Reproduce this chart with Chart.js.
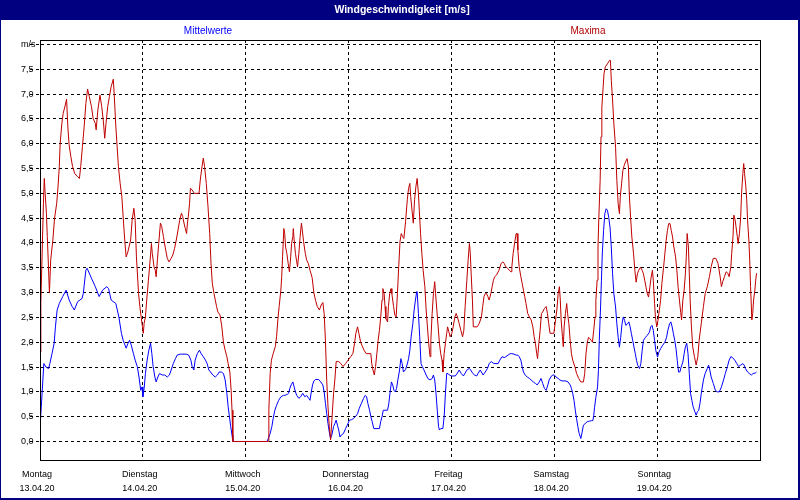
<!DOCTYPE html>
<html><head><meta charset="utf-8">
<script src="https://cdn.jsdelivr.net/npm/chart.js@4.4.1/dist/chart.umd.min.js"></script>
<style>html,body{margin:0;padding:0;background:#fff;}canvas{display:block;}</style>
</head><body>
<div style="width:800px;height:500px;position:relative"><canvas id="c" width="800" height="500"></canvas></div>
<script>
const titleText = 'Windgeschwindigkeit [m/s]';
const seriesNames = ['Mittelwerte', 'Maxima'];
const dayNames = ['Montag', 'Dienstag', 'Mittwoch', 'Donnerstag', 'Freitag', 'Samstag', 'Sonntag'];
const dayDates = ['13.04.20', '14.04.20', '15.04.20', '16.04.20', '17.04.20', '18.04.20', '19.04.20'];
const yTickValues = [0, 0.5, 1, 1.5, 2, 2.5, 3, 3.5, 4, 4.5, 5, 5.5, 6, 6.5, 7, 7.5, 8];
const xTickHours = [0, 24, 48, 72, 96, 120, 144, 168];

// Maxima: time in hours since Monday 00:00, value in m/s
const maxHours = [0,0.2,0.5,0.8,1.0,1.2,1.5,1.7,1.9,2.2,2.3,2.5,3.0,3.4,3.9,4.2,4.5,4.7,5.1,5.4,5.9,6.2,6.5,6.8,7.2,7.6,8.1,8.7,9.2,9.5,9.9,10.3,10.7,11.1,11.5,12.0,12.4,12.9,13.1,13.5,14.0,14.4,14.8,15.1,15.4,15.8,16.2,16.6,17.1,17.3,17.7,18.0,18.3,18.7,19.1,19.5,19.8,20.1,20.5,21.15,21.5,21.9,22.2,22.5,23.0,23.3,23.6,23.9,24.1,24.3,24.6,24.9,25.3,25.7,26.0,26.2,26.6,26.9,27.1,27.4,27.7,28.1,28.4,28.8,29.2,29.7,30.1,30.6,31.0,31.4,31.8,32.2,32.6,33.0,33.3,33.6,33.9,34.2,34.4,34.6,34.9,35.1,35.5,36.0,37.1,37.4,37.8,38.1,38.4,38.8,39.2,39.6,39.9,40.2,40.6,40.9,41.2,41.5,42.0,42.4,42.8,43.2,43.6,43.9,44.3,44.6,44.8,45.0,53.3,53.4,53.7,54.0,54.4,54.9,55.2,55.5,55.8,56.2,56.4,56.6,56.9,57.1,57.3,57.6,57.9,58.2,58.5,58.7,59.0,59.1,59.3,59.6,59.9,60.1,60.4,60.7,61.0,61.2,61.5,61.9,62.2,62.6,63.0,63.5,63.9,64.3,64.7,65.2,65.6,66.0,66.3,66.6,66.9,67.2,67.5,67.8,68.1,68.5,68.8,69.1,69.7,70.2,70.7,71.3,71.9,72.5,73.0,73.4,73.7,74.1,74.4,74.8,75.1,75.6,76.1,77.2,77.4,77.7,78.0,78.3,78.6,78.9,79.2,79.5,79.8,80.0,80.3,80.5,80.7,81.1,81.3,81.6,81.9,82.1,82.5,82.8,83.1,83.4,83.7,84.0,84.3,84.6,84.9,85.3,85.7,86.0,86.3,86.5,86.8,87.1,87.4,87.7,88.0,88.3,88.5,88.8,89.1,89.4,89.8,90.1,90.4,90.7,91.0,91.2,91.5,91.8,92.1,92.3,92.6,92.9,93.2,93.5,93.8,94.0,94.3,94.6,94.9,95.1,95.4,95.7,96.1,96.4,96.8,97.1,97.4,97.8,98.2,98.6,98.9,99.2,99.6,99.9,100.2,100.4,100.6,100.9,101.1,102.0,102.5,103.0,103.3,103.6,103.9,104.2,104.5,104.8,105.2,105.5,105.8,106.1,106.5,107.1,107.6,108.0,108.3,108.7,109.1,109.5,109.9,110.1,110.4,110.8,111.1,111.3,111.5,111.8,112.2,112.5,112.8,113.1,113.4,113.8,114.2,114.6,115.0,115.3,115.6,115.9,116.1,116.4,116.7,117.0,117.3,117.7,118.1,118.4,118.7,119.0,119.9,120.2,120.6,120.9,121.2,121.4,121.6,121.9,122.1,122.3,122.6,122.9,123.1,123.4,123.7,124.0,124.3,124.8,125.2,125.7,126.2,126.8,127.1,127.4,127.7,128.0,128.3,128.6,128.9,129.2,129.5,129.7,130.0,130.2,130.4,130.7,130.9,131.1,131.4,131.6,131.9,132.4,132.9,133.1,133.3,133.6,133.9,134.3,134.6,134.9,135.2,135.4,135.7,136.0,136.3,136.6,137.0,137.3,137.5,137.8,138.1,138.5,138.8,139.1,139.4,139.7,140.1,140.5,140.8,141.1,141.4,141.7,142.0,142.3,142.6,142.9,143.1,143.4,143.6,143.9,144.2,144.5,144.8,145.1,145.5,145.8,146.1,146.4,146.7,147.0,147.3,147.6,147.9,148.3,148.6,148.9,149.2,149.5,149.7,150.0,150.3,150.6,150.8,151.0,151.3,151.5,151.7,152.0,152.3,152.7,153.1,153.5,153.8,154.3,154.8,155.2,155.7,156.2,156.6,157.1,157.7,158.2,158.7,159.0,159.3,159.7,160.1,160.5,160.8,161.2,161.4,161.7,161.9,162.2,162.4,162.7,162.9,163.2,163.5,163.7,164.0,164.2,164.4,164.7,164.9,165.1,165.4,165.6,165.8,166.1,166.3,166.5,166.8,167.0,167.2];
const maxValues = [1.8,2.8,3.8,4.8,5.3,5.0,4.6,4.13,3.69,3.0,3.0,3.66,4.06,4.5,4.8,5.13,5.54,6.0,6.41,6.61,6.78,6.9,6.34,5.97,5.74,5.54,5.4,5.34,5.3,5.54,5.94,6.34,6.81,7.1,6.95,6.75,6.51,6.41,6.28,6.68,6.98,6.75,6.44,6.11,6.41,6.75,6.95,7.15,7.3,7.02,6.34,5.94,5.54,5.2,4.93,4.4,4.03,3.72,3.82,4.06,4.46,4.7,4.46,3.72,2.98,2.72,2.51,2.31,2.18,2.38,2.51,2.85,3.25,3.66,3.99,3.79,3.52,3.45,3.32,3.66,3.99,4.4,4.33,4.13,3.92,3.69,3.62,3.69,3.76,3.89,4.06,4.26,4.46,4.6,4.53,4.4,4.29,4.19,4.4,4.53,4.8,5.1,5.07,5.0,5.0,5.27,5.54,5.71,5.54,5.2,4.73,4.19,3.59,3.19,2.98,2.85,2.72,2.61,2.55,2.33,2.0,1.84,1.71,1.57,1.4,1.03,0.63,0,0,0.63,1.37,1.64,1.77,1.91,2.11,2.45,2.72,3.05,3.32,3.72,4.29,4.19,3.92,3.79,3.59,3.42,3.72,3.99,4.13,4.29,4.06,3.79,3.62,3.52,3.79,4.13,4.4,4.26,4.03,3.79,3.66,3.59,3.45,3.3,3.0,2.84,2.72,2.65,2.75,2.8,2.58,2.04,1.24,0.7,0.3,0.03,0.43,0.97,1.24,1.61,1.61,1.57,1.51,1.57,1.64,1.71,1.77,1.98,2.18,2.31,2.18,2.01,1.94,1.84,1.77,1.77,1.57,1.44,1.34,1.51,1.77,2.04,2.24,2.51,2.85,3.08,2.98,2.72,2.48,2.41,2.72,2.98,3.08,2.98,2.72,2.55,2.51,2.98,3.52,4.03,4.19,4.13,4.09,4.43,4.87,5.1,5.2,4.93,4.66,4.4,4.87,5.13,5.3,5.0,4.66,4.19,3.79,3.45,3.12,2.65,2.31,1.98,1.71,2.04,2.58,2.98,3.22,2.98,2.65,2.31,1.98,1.77,1.64,1.4,1.77,1.98,2.18,2.31,2.21,2.11,2.18,2.31,2.51,2.58,2.51,2.38,2.24,2.11,2.24,2.72,3.25,3.66,3.99,3.79,3.39,2.85,2.31,2.31,2.38,2.51,2.72,2.92,2.98,2.98,2.92,2.85,2.98,3.12,3.25,3.32,3.35,3.45,3.59,3.62,3.59,3.52,3.49,3.45,3.42,3.52,3.79,4.03,4.19,4.19,3.86,3.52,3.32,3.19,3.05,2.92,2.78,2.58,2.51,2.45,2.31,2.11,1.98,1.77,1.67,1.98,2.24,2.58,2.61,2.68,2.72,2.58,2.38,2.18,2.18,2.38,2.65,2.98,3.12,2.85,2.45,2.11,1.91,2.31,2.58,2.78,2.58,2.38,2.04,1.77,1.64,1.51,1.37,1.27,1.2,1.2,1.37,1.77,2.0,2.1,2.07,2.04,2.0,2.24,2.51,2.84,3.25,3.92,4.52,5.26,6.14,6.74,7.14,7.41,7.55,7.61,7.68,7.68,7.28,6.88,6.4,5.93,5.26,4.79,4.59,4.93,5.19,5.46,5.56,5.63,5.7,5.53,4.99,4.52,4.12,3.78,3.45,3.21,3.38,3.45,3.51,3.45,3.38,3.25,3.11,2.98,2.91,3.11,3.31,3.45,3.25,2.78,2.51,2.31,2.44,2.64,2.84,3.18,3.51,3.78,4.05,4.25,4.39,4.39,4.25,4.12,3.92,3.72,3.45,3.1,2.85,2.6,2.45,2.85,3.05,3.39,3.72,4.19,3.92,3.39,2.85,2.31,1.91,1.71,1.54,1.71,2.04,2.38,2.72,2.98,3.12,3.32,3.52,3.69,3.69,3.59,3.32,3.12,3.22,3.32,3.42,3.39,3.32,3.52,3.79,4.13,4.56,4.46,4.33,4.13,3.99,4.19,4.53,5.0,5.4,5.6,5.4,5.13,4.87,4.46,4.06,3.66,3.12,2.45,2.58,2.85,3.05,3.25,3.39];

// Mittelwerte: time in hours since Monday 00:00, value in m/s
const meanHours = [0,0.5,0.9,1.4,2.0,2.3,2.8,3.3,3.6,4.0,4.5,5.3,6.1,6.8,7.5,8.0,8.8,9.8,10.1,10.7,11.0,12.0,12.9,13.8,14.6,15.6,16.0,16.6,17.7,18.4,19.0,19.4,20.1,20.5,20.9,21.3,21.8,22.2,22.7,23.1,23.5,23.8,24.0,24.3,24.6,25.0,25.4,25.8,26.1,26.4,26.8,27.1,27.5,27.9,28.5,29.1,29.7,30.2,30.6,31.1,31.6,32.0,32.7,34.1,34.7,35.2,35.5,35.9,36.2,36.7,37.2,37.6,38.1,38.6,39.0,39.4,39.8,40.3,40.9,41.4,41.8,42.3,42.8,43.2,43.6,43.9,44.2,44.5,44.8,45.0,53.0,53.4,53.7,54.1,54.4,54.8,55.2,55.7,56.2,56.8,57.2,57.7,58.0,58.3,58.6,59.0,59.3,59.6,59.9,60.4,60.8,61.3,61.8,62.2,62.7,63.0,63.3,63.6,63.9,64.3,65.0,65.5,66.0,66.3,66.6,66.9,67.2,67.5,67.8,68.1,68.5,68.8,69.1,69.4,69.7,70.0,70.3,70.8,71.3,71.7,72.2,72.7,73.1,73.6,74.1,74.5,75.0,75.5,75.9,76.2,76.5,76.9,77.2,77.5,77.9,79.2,79.5,79.8,80.1,81.1,81.4,81.7,82.0,82.3,82.6,82.9,83.2,83.5,83.9,84.2,84.5,84.8,85.3,85.7,86.0,86.3,86.6,87.0,87.3,87.6,87.9,88.0,88.3,88.6,88.9,89.2,89.6,90.1,90.5,91.0,91.5,91.8,92.1,92.4,92.7,93.0,93.2,93.5,94.0,94.3,94.6,94.9,95.2,95.5,96.0,96.9,97.4,97.8,98.3,98.8,99.2,99.7,100.2,100.5,101.0,101.4,101.9,102.2,102.7,103.0,103.4,103.9,104.4,104.8,105.3,105.9,106.9,107.3,107.8,108.3,108.7,109.2,109.7,110.1,110.6,111.1,111.5,111.8,112.2,112.5,112.8,113.2,113.7,114.2,114.6,115.1,115.6,116.0,116.5,116.9,117.3,117.7,118.1,118.5,118.8,119.2,119.6,120.0,120.4,120.9,121.3,121.8,122.7,123.2,123.7,124.0,124.3,124.6,124.9,125.2,125.5,125.8,126.2,126.5,126.8,127.2,127.7,128.2,128.7,129.0,129.2,129.4,129.7,130.1,130.3,130.5,130.8,131.0,131.2,131.5,131.8,132.1,132.4,132.7,133.0,133.3,133.6,133.9,134.3,134.6,134.9,135.2,135.5,135.8,136.1,136.4,136.7,137.1,137.4,137.7,138.0,138.3,138.6,138.9,139.2,139.5,139.9,140.2,140.5,140.8,141.3,141.7,142.2,142.5,142.8,143.1,143.4,143.7,144.1,144.4,144.8,145.3,145.8,146.2,146.5,146.9,147.2,147.5,147.8,148.1,148.4,148.7,149.0,149.3,149.6,150.0,150.3,150.6,150.9,151.2,151.5,151.8,152.1,152.4,152.8,153.1,153.4,153.7,154.0,154.3,154.8,155.2,155.7,156.0,156.3,156.6,157.1,157.6,158.0,158.5,159.0,159.5,159.9,160.4,160.8,161.2,161.6,162.1,162.6,163.0,163.5,164.0,164.3,164.6,165.1,165.5,166.0,166.4,166.9,167.2];
const meanValues = [0.26,1.0,1.57,1.5,1.47,1.57,1.77,1.98,2.31,2.65,2.78,2.92,3.05,2.85,2.72,2.65,2.82,2.88,2.98,3.45,3.49,3.29,3.12,2.92,3.05,3.12,3.08,2.85,2.78,2.51,2.18,2.04,1.88,1.97,2.04,1.94,1.77,1.64,1.51,1.3,1.03,1.1,0.9,1.07,1.37,1.64,1.84,1.98,1.77,1.51,1.3,1.2,1.3,1.37,1.34,1.34,1.3,1.34,1.44,1.57,1.67,1.74,1.76,1.76,1.74,1.64,1.51,1.44,1.64,1.77,1.84,1.77,1.71,1.64,1.57,1.44,1.4,1.34,1.3,1.34,1.4,1.4,1.37,1.24,0.97,0.7,0.5,0.3,0.13,0,0,0.09,0.16,0.3,0.46,0.63,0.73,0.83,0.9,0.93,0.93,0.95,0.97,1.07,1.14,1.2,1.1,1.0,0.93,0.87,0.9,0.97,0.9,0.93,0.87,0.83,1.0,1.14,1.22,1.25,1.25,1.2,1.14,1.0,0.77,0.56,0.36,0.19,0.06,0.13,0.3,0.36,0.43,0.33,0.23,0.09,0.13,0.16,0.26,0.33,0.43,0.44,0.46,0.5,0.56,0.67,0.77,0.87,0.93,0.9,0.77,0.63,0.5,0.4,0.26,0.26,0.4,0.5,0.63,0.63,0.77,1.0,1.2,1.14,1.03,1.0,1.07,1.24,1.44,1.67,1.57,1.4,1.45,1.56,1.67,1.84,2.11,2.38,2.65,2.85,3.02,3.02,2.58,2.11,1.57,1.51,1.44,1.34,1.27,1.24,1.27,1.34,1.24,0.97,0.63,0.3,0.23,0.26,0.26,0.5,0.97,1.37,1.37,1.34,1.32,1.32,1.38,1.44,1.37,1.32,1.38,1.45,1.47,1.44,1.37,1.34,1.32,1.37,1.44,1.4,1.34,1.4,1.47,1.57,1.61,1.57,1.57,1.64,1.71,1.69,1.71,1.74,1.77,1.77,1.76,1.74,1.74,1.71,1.64,1.51,1.4,1.34,1.3,1.27,1.24,1.2,1.17,1.14,1.2,1.27,1.17,1.07,1.03,1.14,1.24,1.3,1.34,1.34,1.3,1.27,1.24,1.22,1.22,1.2,1.14,1.07,0.97,0.83,0.63,0.46,0.3,0.16,0.06,0.19,0.33,0.36,0.4,0.41,0.42,0.42,0.52,0.69,0.89,1.1,1.43,2.04,2.71,3.25,3.78,4.25,4.59,4.69,4.66,4.52,4.32,3.92,3.38,2.98,2.71,2.37,2.1,1.9,2.1,2.37,2.51,2.44,2.34,2.37,2.41,2.31,2.17,2.04,1.9,1.77,1.63,1.53,1.47,1.57,1.83,2.04,2.1,2.14,2.2,2.31,2.34,2.24,2.04,1.83,1.7,1.8,1.87,1.94,2.0,2.1,2.24,2.37,2.41,2.31,2.17,2.04,1.87,1.63,1.4,1.4,1.5,1.6,1.77,1.91,1.98,1.77,1.37,0.97,0.83,0.7,0.6,0.53,0.6,0.63,0.77,0.97,1.24,1.37,1.47,1.54,1.44,1.3,1.17,1.03,1.0,1.0,1.1,1.24,1.37,1.51,1.64,1.71,1.69,1.64,1.57,1.51,1.54,1.57,1.54,1.47,1.4,1.37,1.34,1.37,1.38,1.4];

const NAVY = '#000080';
const BLUE = '#0000ff';
const RED = '#c00000';
const LEGEND_RED = '#b00000';

const toPoints = (hs, vs) => hs.map((h, i) => ({x: h, y: vs[i]}));

const framePlugin = {
  id: 'frame',
  beforeDraw(chart) {
    const ctx = chart.ctx;
    ctx.save();
    ctx.fillStyle = '#ffffff';
    ctx.fillRect(0, 0, 800, 500);
    ctx.fillStyle = NAVY;
    ctx.fillRect(0, 0, 800, 20);
    ctx.fillRect(0, 0, 1, 500);
    ctx.fillRect(798, 0, 2, 500);
    ctx.fillRect(0, 498, 800, 2);
    ctx.fillStyle = '#ffffff';
    ctx.font = "bold 10.5px 'Liberation Sans', Arial, sans-serif";
    ctx.textAlign = 'center';
    ctx.textBaseline = 'middle';
    ctx.fillText(titleText, 402, 10);
    ctx.font = "10px 'Liberation Sans', Arial, sans-serif";
    ctx.fillStyle = BLUE;
    ctx.fillText(seriesNames[0], 208, 31);
    ctx.fillStyle = LEGEND_RED;
    ctx.fillText(seriesNames[1], 588, 31);
    ctx.restore();
  },
  afterDraw(chart) {
    const a = chart.chartArea;
    const ctx = chart.ctx;
    ctx.save();
    ctx.strokeStyle = '#000';
    ctx.lineWidth = 1;
    ctx.setLineDash([]);
    ctx.strokeRect(Math.round(a.left) + 0.5, Math.round(a.top) + 0.5, Math.round(a.right - a.left), Math.round(a.bottom - a.top));
    ctx.restore();
  }
};

new Chart(document.getElementById('c'), {
  type: 'line',
  data: {
    datasets: [
      {label: seriesNames[1], data: toPoints(maxHours, maxValues), borderColor: RED, borderWidth: 1, pointRadius: 0, tension: 0, fill: false},
      {label: seriesNames[0], data: toPoints(meanHours, meanValues), borderColor: BLUE, borderWidth: 1, pointRadius: 0, tension: 0, fill: false}
    ]
  },
  options: {
    responsive: false,
    animation: false,
    devicePixelRatio: 1,
    events: [],
    layout: {padding: {left: 21, right: 40, top: 40, bottom: 0}},
    plugins: {legend: {display: false}, title: {display: false}, tooltip: {enabled: false}},
    scales: {
      x: {
        type: 'linear', min: 0, max: 168,
        afterBuildTicks: s => { s.ticks = xTickHours.map(v => ({value: v})); },
        afterFit: s => { s.height = 40; },
        grid: {color: '#000', lineWidth: 1, drawTicks: false},
        border: {display: true, color: '#000', width: 1, dash: [3, 3]},
        ticks: {
          autoSkip: false, maxRotation: 0, minRotation: 0, padding: 7, labelOffset: -3,
          color: '#000',
          font: {family: "'Liberation Sans', Arial, sans-serif", size: 9, lineHeight: 1.59},
          callback: v => { const i = xTickHours.indexOf(v); return (i >= 0 && i < dayNames.length) ? [dayNames[i], dayDates[i]] : ''; }
        }
      },
      y: {
        type: 'linear', min: -0.373, max: 8.09,
        afterBuildTicks: s => { s.ticks = yTickValues.map(v => ({value: v})); },
        afterFit: s => { s.width = 19; },
        grid: {color: '#000', lineWidth: 1, drawTicks: true, tickLength: 10, tickColor: '#000', tickBorderDash: [3, 3]},
        border: {display: true, color: '#000', width: 1, dash: [3, 3]},
        ticks: {
          crossAlign: 'far', padding: 2, color: '#000',
          font: {family: "'Liberation Sans Narrow', 'Liberation Sans', Arial, sans-serif", size: 9},
          callback: v => v === 8 ? 'm/s' : v.toFixed(1).replace('.', ',')
        }
      }
    }
  },
  plugins: [framePlugin]
});
</script>
</body></html>
